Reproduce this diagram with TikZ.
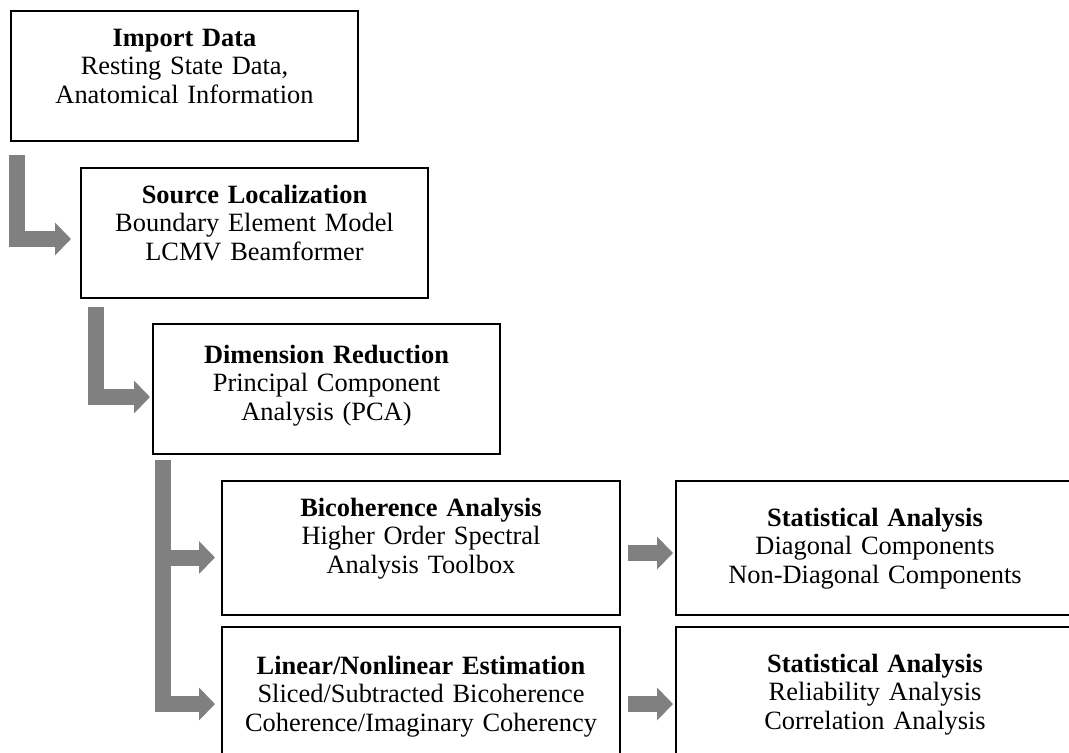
\documentclass[tikz,border=0pt]{standalone}
\usepackage{fontspec}
\setmainfont{Liberation Serif}
\usepackage{tikz}
\usetikzlibrary{arrows.meta,
positioning}

\begin{document}
\begin{tikzpicture}[
    x=0.5pt,
    y=-0.5pt,
    font=\fontsize{13.2pt}{14.3pt}\selectfont,
    stage/.style={
        draw,
        line width=1pt,
        fill=white,
        align=center,
        inner sep=0pt
    },
    upperStage/.style={
        stage,
        text width=173.5pt
    },
    lowerStage/.style={
        stage,
        text width=199pt
    },
    flow/.style={
        draw=gray,
        line width=8pt,
        line join=miter,
        -{Triangle[length=8pt,width=16pt]}
    }
]

\useasboundingbox (0,0) rectangle (1069,752);
\clip (0,0) rectangle (1069,752);

%------------------------------------------------------------------------------
% Preprocessing stages (staircase)
%------------------------------------------------------------------------------

\node[upperStage, text height=17.5pt, text depth=47.5pt, anchor=north west]
    (importData) at (10,10) {
    \textbf{Import Data}\\
    Resting State Data,\\
    Anatomical Information
};

\node[upperStage, text height=17.5pt, text depth=47.5pt, anchor=north west]
    (sourceLoc) at (80,167) {
    \textbf{Source Localization}\\
    Boundary Element Model\\
    LCMV Beamformer
};

\node[upperStage, text height=19.5pt, text depth=45.5pt, anchor=north west]
    (dimRed) at (152,323) {
    \textbf{Dimension Reduction}\\
    Principal Component\\
    Analysis (PCA)
};

%------------------------------------------------------------------------------
% Connectivity estimation and statistics
%------------------------------------------------------------------------------

\node[lowerStage, text height=17.5pt, text depth=49.5pt, anchor=north west]
    (bicoh) at (221,480) {
    \textbf{Bicoherence Analysis}\\
    Higher Order Spectral\\
    Analysis Toolbox
};

\node[lowerStage, text height=22.5pt, text depth=44.5pt, right=27pt of bicoh]
    (statDiag) {
    \textbf{Statistical Analysis}\\
    Diagonal Components\\
    Non-Diagonal Components
};

\node[lowerStage, text height=23.5pt, text depth=53.5pt, below=5pt of bicoh]
    (linEst) {
    \textbf{Linear/Nonlinear Estimation}\\
    Sliced/Subtracted Bicoherence\\
    Coherence/Imaginary Coherency
};

\node[lowerStage, text height=22.5pt, text depth=54.5pt, right=27pt of linEst]
    (statRel) {
    \textbf{Statistical Analysis}\\
    Reliability Analysis\\
    Correlation Analysis
};

%------------------------------------------------------------------------------
% Block arrows
%------------------------------------------------------------------------------

\draw[flow, shorten >=4.5pt]
    ([xshift=3.25pt, yshift=-6.5pt]importData.south west)
    |- ([yshift=-3pt]sourceLoc.west);

\draw[flow, shorten >=1pt]
    ([xshift=8pt, yshift=-4pt]sourceLoc.south west)
    |- ([yshift=-4pt]dimRed.west);

\draw[flow, shorten >=3pt]
    ([xshift=5.25pt, yshift=-2.5pt]dimRed.south west)
    |- ([yshift=-4.75pt]bicoh.west);

\draw[flow, shorten >=3pt]
    ([xshift=5.25pt, yshift=-2.5pt]dimRed.south west)
    |- (linEst.west);

\draw[flow, shorten <=3.5pt, shorten >=1pt]
    ([yshift=-2.5pt]bicoh.east)
    -- ([yshift=-2.5pt]statDiag.west);

\draw[flow, shorten <=3.5pt, shorten >=1pt]
    (linEst.east)
    -- (statRel.west);

\end{tikzpicture}
\end{document}
